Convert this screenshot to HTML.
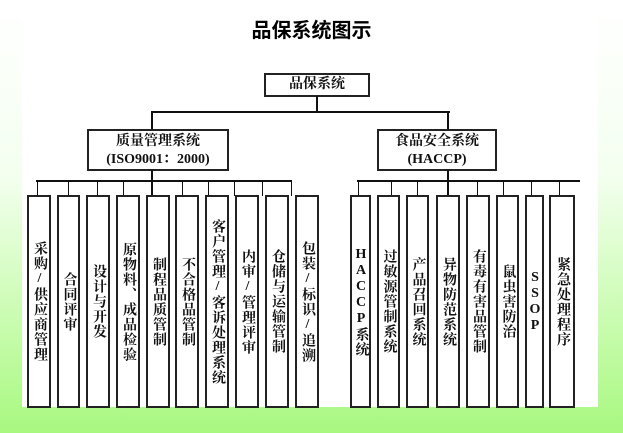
<!DOCTYPE html>
<html><head><meta charset="utf-8"><style>
html,body{margin:0;padding:0}
body{width:623px;height:433px;position:relative;overflow:hidden;background:linear-gradient(180deg,#ffffff 0%,#f4fff0 40%,#c8fcae 75%,#a8f880 100%);font-family:"Liberation Serif","Noto Serif CJK SC",serif;}
.sheet{position:absolute;left:22px;top:0;width:576px;height:407px;background:#fff}
.b{position:absolute;border:2px solid #222;box-sizing:border-box;background:#fff;font-weight:bold;color:#111}
.l{position:absolute;background:#111}
.v{writing-mode:vertical-rl;text-orientation:upright;display:flex;align-items:center;justify-content:center;font-size:14px;line-height:22px;letter-spacing:1px}
.h{text-align:center;font-size:14px}
</style></head><body>
<div class="sheet"></div>
<div style="position:absolute;left:0;top:14px;width:623px;text-align:center;font-size:20px;font-weight:bold;font-family:'Noto Sans CJK SC',sans-serif">品保系统图示</div>
<div class="b h" style="left:264px;top:73px;width:106px;height:24px;line-height:20px">品保系统</div>
<div class="l" style="left:316px;top:96px;width:2px;height:17px"></div>
<div class="l" style="left:151px;top:111px;width:299px;height:2px"></div>
<div class="l" style="left:151px;top:111px;width:2px;height:19px"></div>
<div class="l" style="left:447px;top:111px;width:2px;height:19px"></div>
<div class="b h" style="left:87px;top:129px;width:142px;height:42px;line-height:18px;padding-top:2px">质量管理系统<br>(ISO9001：2000)</div>
<div class="b h" style="left:377px;top:129px;width:120px;height:42px;line-height:18px;padding-top:2px">食品安全系统<br>(HACCP)</div>
<div class="l" style="left:151px;top:170px;width:2px;height:12px"></div>
<div class="l" style="left:447px;top:170px;width:2px;height:12px"></div>
<div class="l" style="left:36px;top:180px;width:256px;height:2px"></div>
<div class="l" style="left:357px;top:180px;width:223px;height:2px"></div>
<!-- ticks -->
<div class="l" style="left:37px;top:180px;width:1px;height:16px"></div>
<div class="l" style="left:68px;top:180px;width:1px;height:16px"></div>
<div class="l" style="left:97px;top:180px;width:1px;height:16px"></div>
<div class="l" style="left:123px;top:180px;width:1px;height:16px"></div>
<div class="l" style="left:151px;top:180px;width:2px;height:16px"></div>
<div class="l" style="left:182px;top:180px;width:1px;height:16px"></div>
<div class="l" style="left:208px;top:180px;width:1px;height:16px"></div>
<div class="l" style="left:234px;top:180px;width:1px;height:16px"></div>
<div class="l" style="left:262px;top:180px;width:1px;height:16px"></div>
<div class="l" style="left:291px;top:180px;width:1px;height:16px"></div>
<div class="l" style="left:358px;top:180px;width:1px;height:16px"></div>
<div class="l" style="left:391px;top:180px;width:1px;height:16px"></div>
<div class="l" style="left:417px;top:180px;width:1px;height:16px"></div>
<div class="l" style="left:447px;top:180px;width:2px;height:16px"></div>
<div class="l" style="left:477px;top:180px;width:1px;height:16px"></div>
<div class="l" style="left:503px;top:180px;width:1px;height:16px"></div>
<div class="l" style="left:531px;top:180px;width:1px;height:16px"></div>
<div class="l" style="left:559px;top:180px;width:1px;height:16px"></div>
<!-- leaf boxes -->
<div class="b v" style="left:27px;top:195px;width:24px;height:213px">采购/供应商管理</div>
<div class="b v" style="left:57px;top:195px;width:23px;height:213px">合同评审</div>
<div class="b v" style="left:86px;top:195px;width:24px;height:213px">设计与开发</div>
<div class="b v" style="left:116px;top:195px;width:24px;height:213px">原物料、成品检验</div>
<div class="b v" style="left:146px;top:195px;width:24px;height:213px">制程品质管制</div>
<div class="b v" style="left:175px;top:195px;width:24px;height:213px">不合格品管制</div>
<div class="b v" style="left:205px;top:195px;width:24px;height:213px">客户管理/客诉处理系统</div>
<div class="b v" style="left:235px;top:195px;width:24px;height:213px">内审/管理评审</div>
<div class="b v" style="left:265px;top:195px;width:24px;height:213px">仓储与运输管制</div>
<div class="b v" style="left:295px;top:195px;width:24px;height:213px">包装/标识/追溯</div>
<div class="b v" style="left:350px;top:195px;width:21px;height:213px">HACCP系统</div>
<div class="b v" style="left:377px;top:195px;width:23px;height:213px">过敏源管制系统</div>
<div class="b v" style="left:406px;top:195px;width:23px;height:213px">产品召回系统</div>
<div class="b v" style="left:436px;top:195px;width:24px;height:213px">异物防范系统</div>
<div class="b v" style="left:466px;top:195px;width:24px;height:213px">有毒有害品管制</div>
<div class="b v" style="left:496px;top:195px;width:23px;height:213px">鼠虫害防治</div>
<div class="b v" style="left:525px;top:195px;width:19px;height:213px">SSOP</div>
<div class="b v" style="left:549px;top:195px;width:26px;height:213px">紧急处理程序</div>
</body></html>
